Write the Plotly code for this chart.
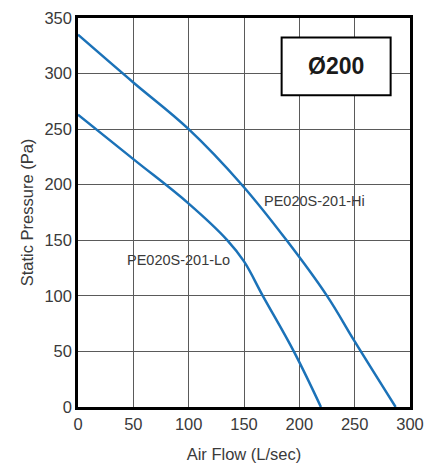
import plotly.graph_objects as go

hi_flow = [0, 50, 100, 148, 188.5, 225, 250, 287]
hi_pressure = [335, 292, 250, 200, 150, 100, 59, 0]
lo_flow = [0, 50, 100, 135, 150, 167, 195, 219.5]
lo_pressure = [263, 223, 183, 150, 131, 100, 50, 0]

x_ticks = [0, 50, 100, 150, 200, 250, 300]
y_ticks = [0, 50, 100, 150, 200, 250, 300, 350]

blue = "#1b72b8"
font_family = "Liberation Sans, Arial, sans-serif"
text_color = "#3a3a3a"

fig = go.Figure()
fig.add_trace(go.Scatter(x=hi_flow, y=hi_pressure, mode="lines",
                         line=dict(color=blue, width=2.5, shape="spline", smoothing=1.1), showlegend=False))
fig.add_trace(go.Scatter(x=lo_flow, y=lo_pressure, mode="lines",
                         line=dict(color=blue, width=2.5, shape="spline", smoothing=1.1), showlegend=False))

fig.add_annotation(x=213.5, y=185, text="PE020S-201-Hi", showarrow=False,
                   font=dict(family=font_family, size=14.5, color=text_color))
fig.add_annotation(x=91, y=132.5, text="PE020S-201-Lo", showarrow=False,
                   font=dict(family=font_family, size=14.5, color=text_color))

fig.add_shape(type="rect", x0=184, x1=282.5, y0=280.5, y1=332.5, xref="x", yref="y",
              fillcolor="white", line=dict(color="black", width=2), layer="above")
fig.add_annotation(x=233.2, y=306.5, text="<b>Ø200</b>", showarrow=False,
                   font=dict(family=font_family, size=23, color="#1a1a1a"))

axis_common = dict(showgrid=True, gridcolor="#5a5a5a", gridwidth=1, showline=True, linecolor="black",
                   linewidth=2.5, mirror=True, zeroline=False, ticks="", automargin=False,
                   tickfont=dict(family=font_family, size=16.5, color=text_color))

fig.update_layout(
    width=429, height=455,
    margin=dict(l=70, r=27, t=9.5, b=56),
    plot_bgcolor="white", paper_bgcolor="white",
    xaxis=dict(range=[0, 300], tickvals=x_ticks,
               title=dict(text="Air Flow (L/sec)", font=dict(family=font_family, size=16.5, color=text_color), standoff=19),
               **axis_common),
    yaxis=dict(range=[0, 350], tickvals=y_ticks,
               title=dict(text="Static Pressure (Pa)", font=dict(family=font_family, size=16.5, color=text_color), standoff=7),
               **axis_common),
)

fig.write_html("out.html")
